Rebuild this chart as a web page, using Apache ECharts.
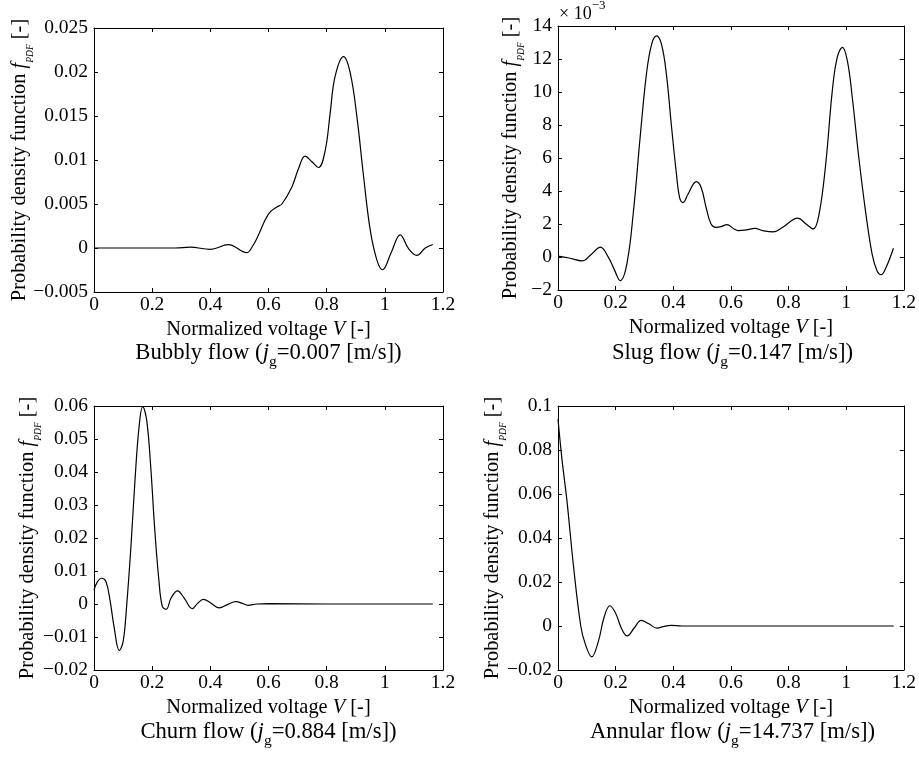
<!DOCTYPE html>
<html>
<head>
<meta charset="utf-8">
<script src="https://cdn.jsdelivr.net/npm/echarts@6/dist/echarts.min.js"></script>
<style>html,body{margin:0;padding:0;background:#fff}#c{width:919px;height:758px}</style>
</head>
<body>
<div id="c"></div>
<script>
// ---- data ----
const vBubbly = [0, 0.1, 0.2, 0.28, 0.33, 0.40, 0.462, 0.525, 0.545, 0.565, 0.588, 0.606, 0.629, 0.646, 0.680, 0.703, 0.726, 0.749, 0.772, 0.795, 0.812, 0.829, 0.858, 0.881, 0.904, 0.927, 0.950, 0.973, 0.992, 1.022, 1.053, 1.082, 1.11, 1.139, 1.165];
const pdfBubbly = [0, 0, 0, 0, 0.0001, -0.00015, 0.00038, -0.00053, 0.0002, 0.00144, 0.00315, 0.0041, 0.00467, 0.005, 0.0069, 0.009, 0.01044, 0.0098, 0.00915, 0.0111, 0.0153, 0.0195, 0.02175, 0.0199, 0.0149, 0.0081, 0.002, -0.0014, -0.00247, -0.0005, 0.0015, -0.0001, -0.00084, 0, 0.0004];

const vSlug = [0, 0.038, 0.084, 0.115, 0.147, 0.175, 0.195, 0.216, 0.239, 0.262, 0.285, 0.307, 0.325, 0.342, 0.359, 0.376, 0.393, 0.411, 0.422, 0.434, 0.451, 0.48, 0.497, 0.514, 0.531, 0.548, 0.566, 0.586, 0.611, 0.625, 0.654, 0.683, 0.711, 0.746, 0.78, 0.832, 0.861, 0.886, 0.906, 0.929, 0.952, 0.969, 0.987, 1.004, 1.021, 1.044, 1.067, 1.09, 1.107, 1.121, 1.136, 1.164];
// slug values are in units of 1e-3 (axis shows "x 10^-3")
const pdfSlugE3 = [0.05, -0.06, -0.24, 0.15, 0.6, -0.02, -0.75, -1.43, -0.42, 2.8, 7.25, 11.1, 12.9, 13.4, 12.9, 11.1, 8.06, 5.03, 3.6, 3.3, 3.8, 4.57, 4.2, 3.0, 2.0, 1.8, 1.84, 1.96, 1.7, 1.6, 1.64, 1.74, 1.6, 1.52, 1.8, 2.36, 2.0, 1.7, 2.6, 5.64, 10.1, 12.1, 12.7, 11.9, 9.7, 6.0, 2.8, 0.18, -0.83, -1.07, -0.73, 0.53];

const vChurn = [0, 0.012, 0.026, 0.041, 0.055, 0.069, 0.087, 0.1, 0.112, 0.127, 0.141, 0.155, 0.1675, 0.181, 0.195, 0.209, 0.223, 0.235, 0.248, 0.265, 0.287, 0.31, 0.338, 0.356, 0.376, 0.40, 0.431, 0.46, 0.4875, 0.51, 0.529, 0.56, 0.6, 0.8, 1.0, 1.165];
const pdfChurn = [0.0042, 0.0068, 0.0078, 0.0068, 0.0012, -0.0069, -0.0141, -0.0115, -0.0008, 0.0174, 0.0376, 0.0537, 0.0598, 0.0558, 0.0416, 0.0224, 0.0073, -0.0008, -0.0016, 0.0018, 0.004, 0.0018, -0.0014, 0.0002, 0.0014, 0.0004, -0.0012, -0.0001, 0.0007, 0.0002, -0.0004, 0, 0.0001, 0, 0, 0];

const vAnnular = [0, 0.014, 0.031, 0.054, 0.079, 0.094, 0.117, 0.14, 0.16, 0.18, 0.2, 0.22, 0.24, 0.265, 0.289, 0.315, 0.344, 0.365, 0.392, 0.43, 0.6, 0.8, 1.0, 1.165];
const pdfAnnular = [0.094, 0.0755, 0.057, 0.027, 0, -0.0079, -0.014, -0.007, 0.004, 0.0092, 0.0058, -0.001, -0.0045, -0.0008, 0.0026, 0.001, -0.001, -0.0003, 0.0003, 0, 0, 0, 0, 0];

// ---- tick labels ----
const xTicks = [0, 0.2, 0.4, 0.6, 0.8, 1, 1.2];
const yTicksBubbly = [-0.005, 0, 0.005, 0.01, 0.015, 0.02, 0.025];
const yTicksSlug = [-2, 0, 2, 4, 6, 8, 10, 12, 14];
const yTicksChurn = [-0.02, -0.01, 0, 0.01, 0.02, 0.03, 0.04, 0.05, 0.06];
const yTicksAnnular = [-0.02, 0, 0.02, 0.04, 0.06, 0.08, 0.1];

// ---- texts ----
const flowNames = ['Bubbly flow', 'Slug flow', 'Churn flow', 'Annular flow'];
const jgValues = ['0.007', '0.147', '0.884', '14.737'];
const xAxisTitle = 'Normalized voltage';
const yAxisTitle = 'Probability density function';
const slugExponent = '\u22123';

// ---- build ----
const panels = [
  {v: vBubbly, p: pdfBubbly, ticks: yTicksBubbly},
  {v: vSlug, p: pdfSlugE3, ticks: yTicksSlug},
  {v: vChurn, p: pdfChurn, ticks: yTicksChurn},
  {v: vAnnular, p: pdfAnnular, ticks: yTicksAnnular}
];
const layout = [
  {left: 94, top: 28, width: 349, height: 264, yGap: 59, capY: 353},
  {left: 558, top: 26, width: 349, height: 264, yGap: 32, capY: 353},
  {left: 94, top: 406, width: 349, height: 264, yGap: 51, capY: 732},
  {left: 558, top: 406, width: 349, height: 264, yGap: 50, capY: 732}
];

const FONT = 'Liberation Serif';
const BLACK = '#000';
const fmt = v => String(parseFloat(Number(v).toFixed(6))).replace('-', '\u2212');
const step = t => parseFloat((t[1] - t[0]).toFixed(10));

const axisLine = {show: true, onZero: false, lineStyle: {color: BLACK, width: 1}};
const axisTick = {show: true, inside: true, length: 4, lineStyle: {color: BLACK, width: 1}};
const labelStyle = {show: true, color: BLACK, fontFamily: FONT, fontSize: 19.5, lineHeight: 20, formatter: fmt};

const option = {
  animation: false,
  backgroundColor: '#fff',
  grid: [], xAxis: [], yAxis: [], series: [], title: []
};

panels.forEach((pn, i) => {
  const L = layout[i];
  option.grid.push({left: L.left, top: L.top, width: L.width, height: L.height, show: false});
  const xr = {min: xTicks[0], max: xTicks[xTicks.length - 1], interval: step(xTicks)};
  const yr = {min: pn.ticks[0], max: pn.ticks[pn.ticks.length - 1], interval: step(pn.ticks)};

  option.xAxis.push(Object.assign({
    type: 'value', gridIndex: i, position: 'bottom',
    axisLine, axisTick, splitLine: {show: false},
    axisLabel: Object.assign({margin: 3}, labelStyle),
    name: xAxisTitle + ' {i|V} [-]',
    nameLocation: 'middle', nameGap: 27, nameMoveOverlap: false,
    nameTextStyle: {
      color: BLACK, fontFamily: FONT, fontSize: 20.4, lineHeight: 22,
      rich: {i: {color: BLACK, fontFamily: FONT, fontSize: 20.4, fontStyle: 'italic', lineHeight: 22}}
    }
  }, xr));
  option.xAxis.push(Object.assign({
    type: 'value', gridIndex: i, position: 'top',
    axisLine, axisTick, splitLine: {show: false}, axisLabel: {show: false}
  }, xr));

  option.yAxis.push(Object.assign({
    type: 'value', gridIndex: i, position: 'left',
    axisLine, axisTick, splitLine: {show: false},
    axisLabel: Object.assign({margin: 6}, labelStyle),
    name: yAxisTitle + ' {f|f}{s|PDF} [-]',
    nameLocation: 'middle', nameRotate: 90, nameGap: L.yGap, nameMoveOverlap: false,
    nameTextStyle: {
      color: BLACK, fontFamily: FONT, fontSize: 20.4, lineHeight: 30,
      rich: {
        f: {color: BLACK, fontFamily: FONT, fontSize: 20.4, fontStyle: 'italic', lineHeight: 30},
        s: {color: BLACK, fontFamily: FONT, fontSize: 9.5, fontStyle: 'italic', lineHeight: 30, verticalAlign: 'bottom'}
      }
    }
  }, yr));
  option.yAxis.push(Object.assign({
    type: 'value', gridIndex: i, position: 'right',
    axisLine, axisTick, splitLine: {show: false}, axisLabel: {show: false}
  }, yr));

  option.series.push({
    type: 'line', xAxisIndex: 2 * i, yAxisIndex: 2 * i,
    data: pn.v.map((x, k) => [x, pn.p[k]]),
    symbol: 'none', showSymbol: false, smooth: 0.4,
    lineStyle: {color: BLACK, width: 1.2},
    silent: true
  });

  option.title.push({
    text: flowNames[i] + ' ({i|j}{s|g}=' + jgValues[i] + ' [m/s])',
    left: L.left + L.width / 2, top: L.capY,
    textAlign: 'center', textVerticalAlign: 'middle', padding: 0,
    textStyle: {
      color: BLACK, fontFamily: FONT, fontSize: 22.7, fontWeight: 'normal', lineHeight: 33,
      rich: {
        i: {color: BLACK, fontFamily: FONT, fontSize: 22.7, fontStyle: 'italic', lineHeight: 33},
        s: {color: BLACK, fontFamily: FONT, fontSize: 15.5, lineHeight: 33, verticalAlign: 'bottom'}
      }
    }
  });
});

// exponent label of the slug-flow axis
option.title.push({
  text: '\u00d7 10{sup|' + slugExponent + '}',
  left: 559, top: -1, textAlign: 'left', textVerticalAlign: 'top', padding: 0,
  textStyle: {
    color: BLACK, fontFamily: FONT, fontSize: 18, fontWeight: 'normal', lineHeight: 30,
    rich: {sup: {color: BLACK, fontFamily: FONT, fontSize: 13, lineHeight: 30, verticalAlign: 'top'}}
  }
});

const chart = echarts.init(document.getElementById('c'), null, {renderer: 'canvas'});
chart.setOption(option);
</script>
</body>
</html>
